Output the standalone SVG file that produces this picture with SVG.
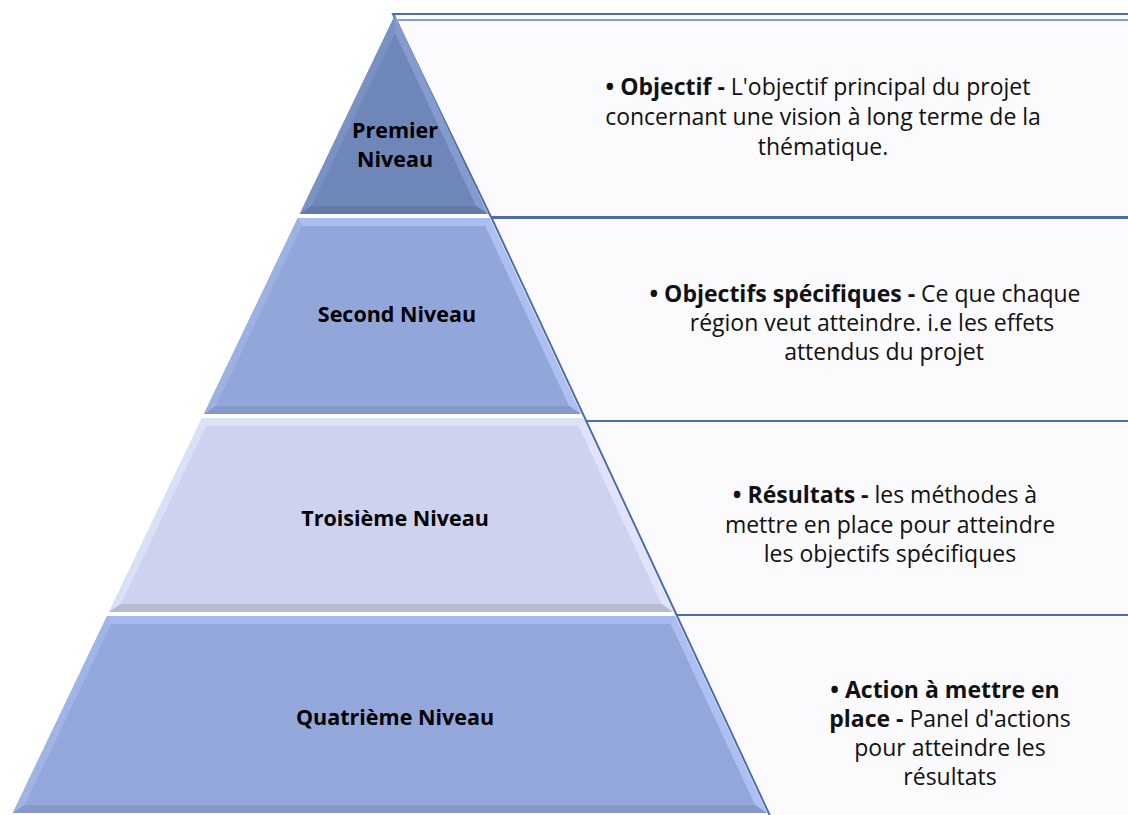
<svg xmlns="http://www.w3.org/2000/svg" width="1128" height="815" viewBox="0 0 1128 815">
<style>
.box{fill:#fbfafd;stroke:#4b6cb0;stroke-width:2}
.t{font-family:"Open Sans","Liberation Sans",sans-serif;font-size:23px;fill:#111;text-anchor:middle}
.b{font-weight:bold}
.lbl{font-family:"Open Sans","Liberation Sans",sans-serif;font-size:21.5px;font-weight:bold;fill:#000;text-anchor:middle}
</style>
<rect width="1128" height="815" fill="#ffffff"/>
<g id="connectors"></g>
<g id="box1">
<polygon class="box" points="393,14 1135,14 1135,217 491,217"/>
<line x1="398" y1="20" x2="1135" y2="20" stroke="#5b7fc8" stroke-width="1.5"/>
<text class="t"><tspan x="818" y="95"><tspan class="b">• Objectif -</tspan> L'objectif principal du projet</tspan><tspan x="823" y="125">concernant une vision à long terme de la</tspan><tspan x="823" y="155">thématique.</tspan></text>
</g>
<g id="box2">
<polygon class="box" points="491.6,218 1135,218 1135,421 586.2,421"/>
<text class="t"><tspan x="865" y="302"><tspan class="b">• Objectifs spécifiques -</tspan> Ce que chaque</tspan><tspan x="872" y="331">région veut atteindre. i.e les effets</tspan><tspan x="884" y="360">attendus du projet</tspan></text>
</g>
<g id="box3">
<polygon class="box" points="586.2,421 1135,421 1135,615 676.6,615"/>
<text class="t"><tspan x="885" y="503"><tspan class="b">• Résultats -</tspan> les méthodes à</tspan><tspan x="890" y="533">mettre en place pour atteindre</tspan><tspan x="890" y="562">les objectifs spécifiques</tspan></text>
</g>
<g id="box4">
<polygon class="box" points="676.6,615 1135,615 1135,820 772,820"/>
<text class="t"><tspan x="945" y="698"><tspan class="b">• Action à mettre en</tspan></tspan><tspan x="950" y="727"><tspan class="b">place -</tspan> Panel d'actions</tspan><tspan x="950" y="756">pour atteindre les</tspan><tspan x="950" y="785">résultats</tspan></text>
</g>
<g id="level1">
<polygon points="395,15 487.7,214 299.7,214" fill="#6f86b9"/>
<polygon points="395,15 395,33 311.5,206 299.7,214" fill="#7d93c5" opacity="0.8"/>
<polygon points="395,15 487.7,214 476,206 395,33" fill="#8ba0d3" opacity="0.8"/>
<polygon points="299.7,214 487.7,214 476,206 311.5,206" fill="#667aa8"/>
<text class="lbl"><tspan x="395" y="138">Premier</tspan><tspan x="395" y="167">Niveau</tspan></text>
</g>
<g id="level2">
<polygon points="297.8,218 489.6,218 580.9,414 203.9,414" fill="#93a6d9"/>
<polygon points="297.8,218 489.6,218 485.3,226 301.9,226" fill="#a9bdf1"/>
<polygon points="297.8,218 301.9,226 215.7,406 203.9,414" fill="#9eb1e3"/>
<polygon points="489.6,218 580.9,414 569.2,406 485.3,226" fill="#adc0f1"/>
<polygon points="203.9,414 580.9,414 569.2,406 215.7,406" fill="#8799c6"/>
<text class="lbl" x="397" y="322">Second Niveau</text>
</g>
<g id="level3">
<polygon points="202,418 582.8,418 673.2,612 109,612" fill="#cdd2ee"/>
<polygon points="202,418 582.8,418 578.5,426 206.1,426" fill="#dde1f7"/>
<polygon points="202,418 206.1,426 120.9,604 109,612" fill="#dce0f6"/>
<polygon points="582.8,418 673.2,612 661.5,604 578.5,426" fill="#e0e4fa"/>
<polygon points="109,612 673.2,612 661.5,604 120.9,604" fill="#b7bbcf"/>
<text class="lbl" x="395" y="526">Troisième Niveau</text>
</g>
<g id="level4">
<polygon points="107.1,616 675.1,616 766.9,813 12.8,813" fill="#94a7da"/>
<polygon points="107.1,616 675.1,616 670.8,624 111.3,624" fill="#a6baf2"/>
<polygon points="107.1,616 111.3,624 24.6,805 12.8,813" fill="#a1b4e7"/>
<polygon points="675.1,616 766.9,813 755.1,805 670.8,624" fill="#adc0f1"/>
<polygon points="12.8,813 766.9,813 755.1,805 24.6,805" fill="#8798c6"/>
<text class="lbl" x="395" y="725">Quatrième Niveau</text>
</g>
</svg>
